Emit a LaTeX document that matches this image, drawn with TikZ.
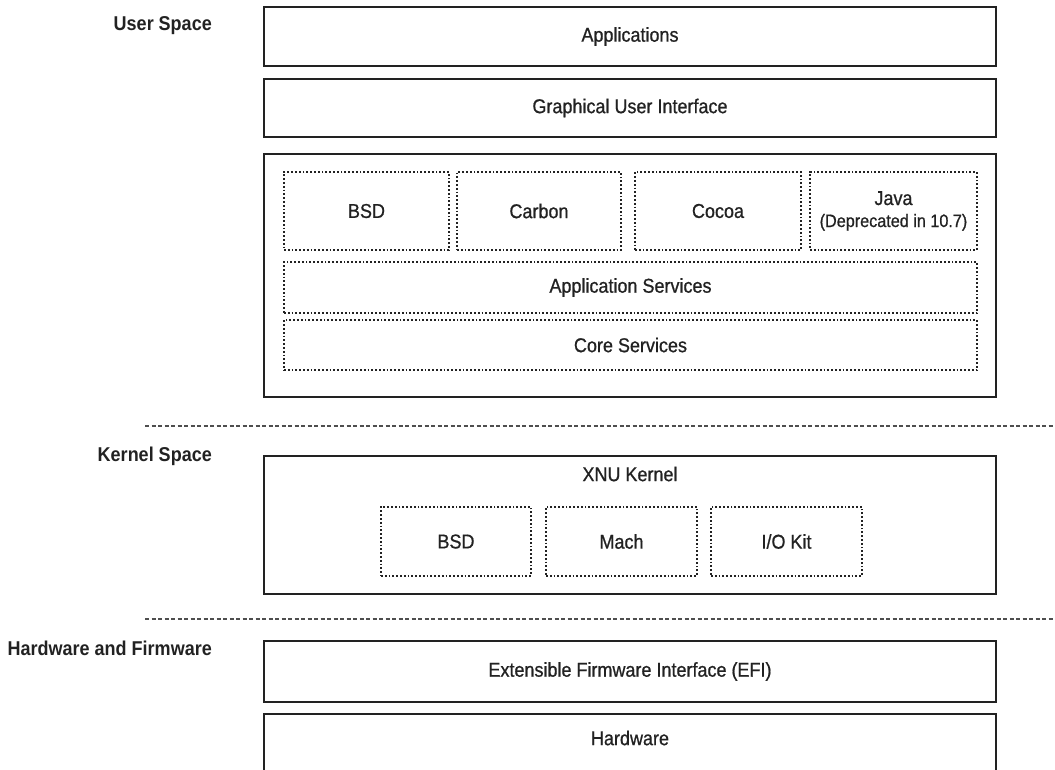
\documentclass[tikz,border=0pt]{standalone}
\usepackage{fontspec}
\setmainfont{Liberation Sans}[FakeStretch=0.9, UprightFeatures={FakeBold=0.8}]
\definecolor{ink}{HTML}{222222}
\tikzset{
  layer/.style={draw=ink, line width=2pt, minimum width=732pt, inner sep=0pt},
  part/.style={draw=ink, line width=2pt, dash pattern=on 1.8pt off 2pt, inner sep=0pt, align=center},
  space/.style={anchor=base east, inner sep=0pt, font=\bfseries\fontsize{20}{24}\selectfont},
  divider/.style={draw=ink!80, line width=1.4pt, dash pattern=on 4pt off 2.5pt}
}
\begin{document}
\begin{tikzpicture}[x=1pt, y=-1pt, font=\fontsize{20}{24}\selectfont, text=ink]
        \useasboundingbox (0,0) rectangle (1055,770);

        % User space
        \node[space] (userlbl) at (212,31) {User Space};
        \node[layer, minimum height=59pt] (apps) at (630,36.5) {Applications};
        \node[layer, minimum height=58pt] (gui) at (630,108) {Graphical User Interface};
        \node[layer, minimum height=243pt] (userbox) at (630,275.5) {};
        \node[part, minimum width=165pt, minimum height=78pt] (bsdu) at (366.5,211) {BSD};
        \node[part, minimum width=164pt, minimum height=78pt] (carbon) at (539,211) {Carbon};
        \node[part, minimum width=166pt, minimum height=78pt] (cocoa) at (718,211) {Cocoa};
        \node[part, minimum width=167pt, minimum height=78pt] (java) at (893.5,211)
          {Java\\[-2pt]{\fontsize{18}{22}\selectfont (Deprecated in 10.7)}};
        \node[part, minimum width=693pt, minimum height=51pt] (appsvc) at (630.5,287.5) {Application Services};
        \node[part, minimum width=693pt, minimum height=50pt] (coresvc) at (630.5,345) {Core Services};

        % Kernel space
        \draw[divider] (145,426) -- (1055,426);
        \node[space] (kernlbl) at (212,461) {Kernel Space};
        \node[layer, minimum height=138pt] (xnu) at (630,525) {};
        \node (xnulbl) at (630,474) {XNU Kernel};
        \node[part, minimum width=150pt, minimum height=69pt] (bsdk) at (456,541.5) {BSD};
        \node[part, minimum width=151pt, minimum height=69pt] (mach) at (621.5,541.5) {Mach};
        \node[part, minimum width=151pt, minimum height=69pt] (iokit) at (786.5,541.5) {I/O Kit};

        % Hardware and firmware
        \draw[divider] (145,619) -- (1055,619);
        \node[space] (hwlbl) at (212,655) {Hardware and Firmware};
        \node[layer, minimum height=61pt] (efi) at (630,671.5) {Extensible Firmware Interface (EFI)};
        \node[layer, minimum height=70pt, anchor=north] (hw) at (630,713) {};
        \node (hwtxt) at ([yshift=-25pt]hw.north) {Hardware};
      \end{tikzpicture}
\end{document}
